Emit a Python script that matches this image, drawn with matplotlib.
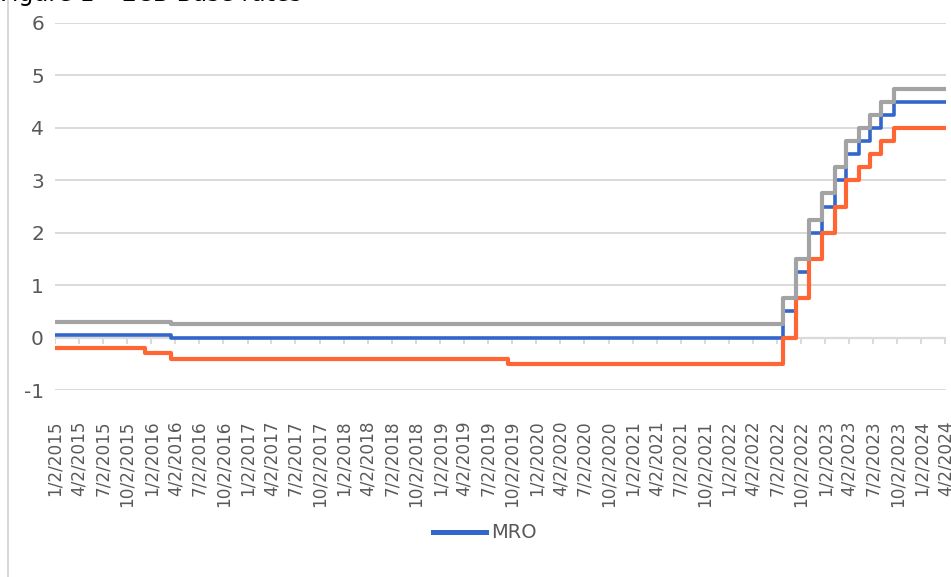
import matplotlib
matplotlib.use('Agg')
import matplotlib.pyplot as plt
from matplotlib.lines import Line2D
import pandas as pd

# ECB policy rate change dates (step, value holds until next date)
change_dates = ["2015-01-02", "2015-12-09", "2016-03-16", "2019-09-18", "2022-07-27",
                "2022-09-14", "2022-11-02", "2022-12-21", "2023-02-08", "2023-03-22",
                "2023-05-10", "2023-06-21", "2023-08-02", "2023-09-20", "2024-04-02"]
mro = [0.05, 0.05, 0.00, 0.00, 0.50, 1.25, 2.00, 2.50, 3.00, 3.50, 3.75, 4.00, 4.25, 4.50, 4.50]
deposit = [-0.20, -0.30, -0.40, -0.50, 0.00, 0.75, 1.50, 2.00, 2.50, 3.00, 3.25, 3.50, 3.75, 4.00, 4.00]
mlf = [0.30, 0.30, 0.25, 0.25, 0.75, 1.50, 2.25, 2.75, 3.25, 3.75, 4.00, 4.25, 4.50, 4.75, 4.75]

tick_dates = pd.date_range("2015-01-02", "2024-04-02", freq=pd.DateOffset(months=3))
tick_labels = [f"{d.month}/{d.day}/{d.year}" for d in tick_dates]
y_ticks = [-1, 0, 1, 2, 3, 4, 5, 6]

BLUE = "#3366CC"
ORANGE = "#FF6633"
GRAY = "#A3A3A6"
GRID = "#d9d9d9"
TXT = "#595959"

dates = pd.to_datetime(change_dates)

fig = plt.figure(figsize=(9.51, 5.77), dpi=100)
ax = fig.add_axes([55 / 951, 1 - 390 / 577, (946 - 55) / 951, (390 - 23) / 577])
ax.set_ylim(-1, 6)
ax.set_yticks(y_ticks)
ax.set_yticklabels([str(v) for v in y_ticks])
ax.set_xlim(dates[0], dates[-1] + pd.Timedelta(days=2))
for s in ax.spines.values():
    s.set_visible(False)
ax.grid(axis='y', color=GRID, lw=1.4, zorder=0)
ax.tick_params(axis='y', length=0, pad=8, labelsize=14.5, labelcolor=TXT)

ax.set_xticks(tick_dates)
ax.set_xticklabels(tick_labels, rotation=90, fontsize=12.2, color=TXT)
ax.tick_params(axis='x', length=0, pad=22)

# horizontal axis at 0 with tick marks
ax.axhline(0, color=GRID, lw=1.6, zorder=1)
ax.vlines(tick_dates, -0.12, 0, color=GRID, lw=1.4, zorder=1)

ax.step(dates, mro, where='post', color=BLUE, lw=2.6, zorder=3)
ax.step(dates, deposit, where='post', color=ORANGE, lw=3.0, zorder=3)
ax.step(dates, mlf, where='post', color=GRAY, lw=3.0, zorder=4)

fig.legend(handles=[Line2D([], [], color=BLUE, lw=3.6)], labels=["MRO"],
           loc='center', bbox_to_anchor=(485 / 951, 1 - 533 / 577), frameon=False,
           fontsize=14, handlelength=2.75, handletextpad=0.25, labelcolor=TXT)

fig.text(0.0, 1 - 1 / 577, "Figure 1 \u2013 ECB Base rates", va='baseline', fontsize=17, color='black')
fig.add_artist(Line2D([8 / 951, 8 / 951], [0, 1], color=GRID, lw=1.5, transform=fig.transFigure))

fig.savefig("out.png", dpi=100)
